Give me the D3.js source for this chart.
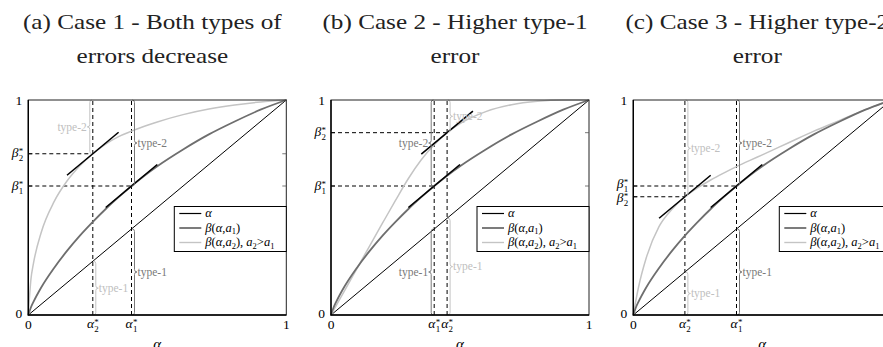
<!DOCTYPE html>
<html>
<head>
<meta charset="utf-8">
<script src="https://cdn.jsdelivr.net/npm/d3@7/dist/d3.min.js"></script>
<style>
  body { margin: 0; background: #fff; }
  svg { display: block; }
  text { font-family: "Liberation Serif", "DejaVu Serif", serif; }
</style>
</head>
<body>
<div id="chart"></div>
<script>
// values
const alphaGrid = [0, 0.01, 0.02, 0.05, 0.1, 0.15, 0.2, 0.25, 0.3, 0.35, 0.4, 0.45, 0.5, 0.6, 0.7, 0.8, 0.9, 1];
// beta(alpha, a1) - same curve in all three cases
const beta1 = [0, 0.035, 0.061, 0.128, 0.219, 0.298, 0.369, 0.433, 0.493, 0.548, 0.600, 0.648, 0.692, 0.770, 0.840, 0.900, 0.955, 1];
// beta(alpha, a2), one per case
const beta2a = [0, 0.164, 0.240, 0.384, 0.527, 0.623, 0.694, 0.750, 0.795, 0.830, 0.855, 0.878, 0.898, 0.932, 0.958, 0.977, 0.991, 1];
const beta2b = [0, 0.022, 0.044, 0.108, 0.215, 0.322, 0.428, 0.533, 0.635, 0.722, 0.792, 0.848, 0.890, 0.946, 0.978, 0.994, 1, 1];
const beta2c = [0, 0.068, 0.128, 0.265, 0.412, 0.492, 0.550, 0.592, 0.628, 0.660, 0.690, 0.718, 0.745, 0.800, 0.855, 0.905, 0.955, 1];
const beta2 = [beta2a, beta2b, beta2c];

const alpha1Star = [0.40, 0.40, 0.40];
const alpha2Star = [0.25, 0.45, 0.20];
const beta1Star = [0.60, 0.60, 0.60];
const beta2Star = [0.75, 0.848, 0.55];

const titles = [
  ['(a) Case 1 - Both types of', 'errors decrease'],
  ['(b) Case 2 - Higher type-1', 'error'],
  ['(c) Case 3 - Higher type-2', 'error']
];
// which side the braces sit on: [a1 curve, a2 curve]
const type2Side = [[1, -1], [-1, 1], [1, 1]];
const type1Side = [[1, 1], [-1, 1], [1, 1]];

const W = 883, H = 347;
const panelX = [28.3, 331, 633.3];
const panelW = 258, plotTop = 100, plotBottom = 315;

const cBlack = '#000', cDark = '#6e6e6e', cLight = '#c4c4c4';
const tDark = '#7a7a7a', tLight = '#c0c0c0';

const svg = d3.select('#chart').append('svg')
  .attr('width', W).attr('height', H)
  .attr('viewBox', `0 0 ${W} ${H}`);

// label like  alpha^*_2  as one text: base, raised star, lowered index under it
function mathLabel(parent, x, y, base, sup, sub, anchor, size) {
  const t = parent.append('text')
    .attr('x', x).attr('y', y)
    .attr('text-anchor', anchor)
    .attr('font-size', size);
  t.append('tspan').attr('font-style', 'italic').text(base);
  const s1 = t.append('tspan').attr('font-size', size * 0.66).attr('dx', 0.3).attr('dy', -size * 0.22).text(sup);
  const sw = s1.node().getComputedTextLength();
  const s2 = t.append('tspan').attr('font-size', size * 0.66).attr('dy', size * 0.52).text(sub);
  const subw = s2.node().getComputedTextLength();
  s2.attr('dx', -sw);
  // pad so the anchored width covers the wider of star and index
  if (subw < sw) s2.text(sub).attr('dx', -sw);
}

function brace(g, x, y1, y2, dir, color, label, tcolor) {
  const yt = Math.min(y1, y2), yb = Math.max(y1, y2);
  const ym = (yt + yb) / 2, r = 2.5;
  const x0 = x + dir * 0.8, xm = x + dir * 3, xt = x + dir * 5.5;
  g.append('path')
    .attr('d', `M${x0},${yt} Q${xm},${yt} ${xm},${yt + r} L${xm},${ym - r} Q${xm},${ym} ${xt},${ym}` +
      ` Q${xm},${ym} ${xm},${ym + r} L${xm},${yb - r} Q${xm},${yb} ${x0},${yb}`)
    .attr('fill', 'none').attr('stroke', color).attr('stroke-width', 1);
  g.append('text')
    .attr('x', xt + dir * 0.5).attr('y', ym)
    .attr('dy', '0.32em')
    .attr('text-anchor', dir > 0 ? 'start' : 'end')
    .attr('font-size', 11.5)
    .attr('fill', tcolor)
    .text(label);
}

const legendRows = [
  { color: cBlack, width: 1.2, parts: [['α', 'i']] },
  { color: cDark, width: 1.8, parts: [['β', 'i'], ['('], ['α', 'i'], [','], ['a', 'i'], ['1', 's'], [')']] },
  { color: cLight, width: 1.4, parts: [['β', 'i'], ['('], ['α', 'i'], [','], ['a', 'i'], ['2', 's'], ['), '], ['a', 'i'], ['2', 's'], ['>'], ['a', 'i'], ['1', 's']] }
];

for (let p = 0; p < 3; p++) {
  const x0 = panelX[p];
  const x = d3.scaleLinear().domain([0, 1]).range([x0, x0 + panelW]);
  const y = d3.scaleLinear().domain([0, 1]).range([plotBottom, plotTop]);
  const g = svg.append('g');

  // title
  const cx = x0 + 124;
  titles[p].forEach((line, k) => {
    g.append('text')
      .attr('transform', `translate(${cx},${k === 0 ? 29 : 63}) scale(1.26,1)`)
      .attr('text-anchor', 'middle')
      .attr('font-size', 20)
      .attr('fill', '#222')
      .text(line);
  });

  const a1 = alpha1Star[p], a2 = alpha2Star[p], b1 = beta1Star[p], b2 = beta2Star[p];

  // dashed guides
  const dash = g.append('g').attr('stroke', '#000').attr('stroke-width', 1).attr('stroke-dasharray', '4,3');
  [a1, a2].forEach(a => {
    dash.append('line').attr('x1', x(a)).attr('x2', x(a)).attr('y1', y(0)).attr('y2', y(1));
  });
  dash.append('line').attr('x1', x(0)).attr('x2', x(a1)).attr('y1', y(b1)).attr('y2', y(b1));
  dash.append('line').attr('x1', x(0)).attr('x2', x(a2)).attr('y1', y(b2)).attr('y2', y(b2));

  // curves
  const line = d3.line().x(d => x(d[0])).y(d => y(d[1])).curve(d3.curveMonotoneX);
  g.append('path').datum([[0, 0], [1, 1]]).attr('d', line)
    .attr('fill', 'none').attr('stroke', cBlack).attr('stroke-width', 1);
  g.append('path').datum(alphaGrid.map((a, k) => [a, beta2[p][k]])).attr('d', line)
    .attr('fill', 'none').attr('stroke', cLight).attr('stroke-width', 1.5);
  g.append('path').datum(alphaGrid.map((a, k) => [a, beta1[k]])).attr('d', line)
    .attr('fill', 'none').attr('stroke', cDark).attr('stroke-width', 1.8);

  // tangent segments (slope 1 at the optimum)
  [[a1, b1], [a2, b2]].forEach(([a, b]) => {
    g.append('line')
      .attr('x1', x(a - 0.1)).attr('y1', y(b - 0.1))
      .attr('x2', x(a + 0.1)).attr('y2', y(b + 0.1))
      .attr('stroke', '#000').attr('stroke-width', 1.6);
  });

  // braces
  brace(g, x(a1), y(1), y(b1), type2Side[p][0], tDark, 'type-2', tDark);
  brace(g, x(a2), y(1), y(b2), type2Side[p][1], cLight, 'type-2', tLight);
  brace(g, x(a1), y(0), y(a1), type1Side[p][0], tDark, 'type-1', tDark);
  brace(g, x(a2), y(0), y(a2), type1Side[p][1], cLight, 'type-1', tLight);

  // frame + ticks
  g.append('rect').attr('x', x(0)).attr('y', y(1)).attr('width', panelW).attr('height', plotBottom - plotTop)
    .attr('fill', 'none').attr('stroke', '#222').attr('stroke-width', 1);
  g.append('path').attr('d', `M${x(0)},${y(1)} V${y(0)} H${x(1)}`)
    .attr('fill', 'none').attr('stroke', '#000').attr('stroke-width', 1.4);
  [b1, b2].forEach(b => {
    g.append('line').attr('x1', x(1)).attr('x2', x(1) - 4).attr('y1', y(b)).attr('y2', y(b))
      .attr('stroke', '#555').attr('stroke-width', 0.8);
    g.append('line').attr('x1', x(0)).attr('x2', x(0) + 4).attr('y1', y(b)).attr('y2', y(b))
      .attr('stroke', '#000').attr('stroke-width', 0.8);
  });

  // tick labels
  const ts = 13.5;
  g.append('text').attr('x', x(0) - 6).attr('y', y(1) + 4.5).attr('text-anchor', 'end').attr('font-size', ts).text('1');
  g.append('text').attr('x', x(0) - 6).attr('y', y(0) + 3).attr('text-anchor', 'end').attr('font-size', ts).text('0');
  g.append('text').attr('x', x(0)).attr('y', y(0) + 13.5).attr('text-anchor', 'middle').attr('font-size', ts).text('0');
  g.append('text').attr('x', x(1)).attr('y', y(0) + 13.5).attr('text-anchor', 'middle').attr('font-size', ts).text('1');
  // in case (c) the two beta labels sit almost on top of each other, nudge them apart a little
  const nudge = Math.abs(y(b1) - y(b2)) < 14 ? 1.5 : 0;
  mathLabel(g, x(0) - 5, y(b1) + 3.5 - nudge, 'β', '*', '1', 'end', ts);
  mathLabel(g, x(0) - 5, y(b2) + 3.5 + nudge, 'β', '*', '2', 'end', ts);
  mathLabel(g, x(a1), y(0) + 13, 'α', '*', '1', 'middle', ts);
  mathLabel(g, x(a2), y(0) + 13, 'α', '*', '2', 'middle', ts);
  g.append('text').attr('x', x(0.5)).attr('y', 349).attr('text-anchor', 'middle')
    .attr('font-size', 15).attr('font-style', 'italic').text('α');

  // legend
  const lx = x0 + 146, ly = 206.5;
  const lg = g.append('g').attr('transform', `translate(${lx},${ly})`);
  lg.append('rect').attr('width', 112).attr('height', 45)
    .attr('fill', '#fff').attr('stroke', '#000').attr('stroke-width', 1);
  legendRows.forEach((row, k) => {
    const ry = 7 + k * 14.5;
    lg.append('line').attr('x1', 5).attr('x2', 27).attr('y1', ry).attr('y2', ry)
      .attr('stroke', row.color).attr('stroke-width', row.width);
    const t = lg.append('text').attr('x', 31).attr('y', ry + 3.5).attr('font-size', 12.5);
    let shifted = false;
    row.parts.forEach(([s, f]) => {
      const sp = t.append('tspan').text(s);
      if (f === 'i') sp.attr('font-style', 'italic');
      if (f === 's') { sp.attr('font-size', 8.5).attr('dy', 2.5); shifted = true; }
      else if (shifted) { sp.attr('dy', -2.5); shifted = false; }
    });
  });
}
</script>
</body>
</html>
